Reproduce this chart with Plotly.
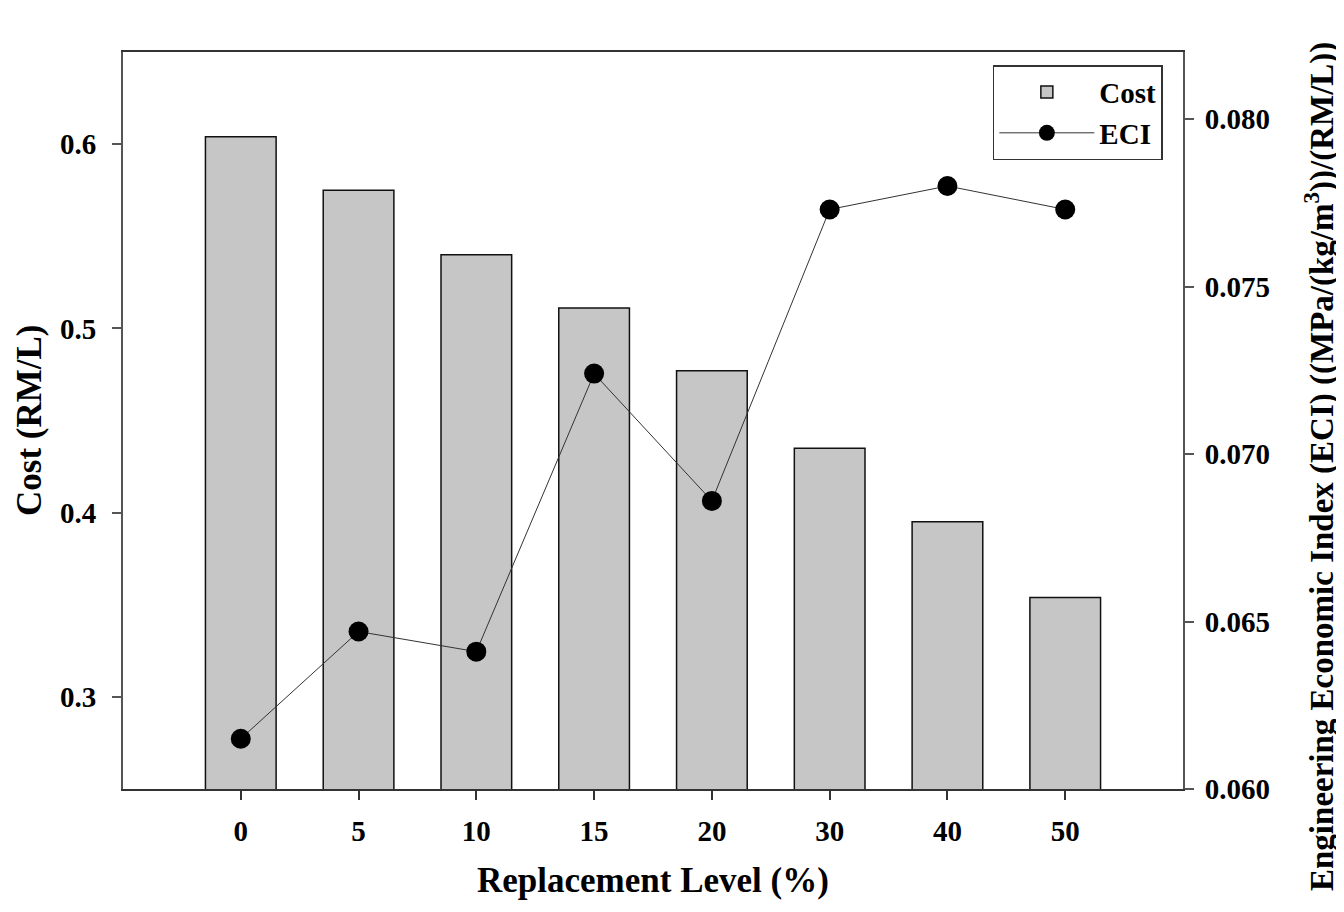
import plotly.graph_objects as go

levels = ["0", "5", "10", "15", "20", "30", "40", "50"]
cost = [0.604, 0.575, 0.540, 0.511, 0.477, 0.435, 0.395, 0.354]
eci = [0.0615, 0.0647, 0.0641, 0.0724, 0.0686, 0.0773, 0.0780, 0.0773]

font_family = "Liberation Serif"
tick_size = 29

fig = go.Figure()
fig.add_trace(go.Bar(
    x=levels, y=cost, name="<b>Cost</b>",
    marker=dict(color="#c6c6c6", line=dict(color="#111111", width=1.5)),
    width=0.6,
))
fig.add_trace(go.Scatter(
    x=levels, y=eci, name="<b>ECI</b>", yaxis="y2",
    mode="lines+markers",
    line=dict(color="#333333", width=1),
    marker=dict(color="black", size=20),
))

fig.update_layout(
    width=1336, height=904,
    paper_bgcolor="white", plot_bgcolor="white",
    margin=dict(l=115, r=161, t=44, b=123, autoexpand=False),
    font=dict(family=font_family, size=tick_size, color="black"),
    showlegend=True,
    legend=dict(
        x=0.981, y=0.982, xanchor="right", yanchor="top",
        bordercolor="#333333", borderwidth=1.5, bgcolor="white",
        font=dict(size=29, family=font_family), itemwidth=95,
        tracegroupgap=0,
    ),
    xaxis=dict(
        type="category", range=[-1, 8], automargin=False,
        showline=True, linecolor="#333333", linewidth=2, mirror=True,
        ticks="outside", ticklen=9, tickcolor="#333333", tickwidth=2,
        tickfont=dict(size=tick_size, family=font_family),
        tickprefix="<b>", ticksuffix="</b>", ticklabelstandoff=6,
        showgrid=False,
    ),
    yaxis=dict(
        range=[0.25, 0.65], tickvals=[0.3, 0.4, 0.5, 0.6], automargin=False,
        ticktext=["<b>0.3</b>", "<b>0.4</b>", "<b>0.5</b>", "<b>0.6</b>"],
        tickfont=dict(size=tick_size, family=font_family),
        showline=True, linecolor="#555555", linewidth=2,
        ticks="outside", ticklen=9, tickcolor="#555555", tickwidth=2,
        ticklabelstandoff=10,
        showgrid=False, zeroline=False,
    ),
    yaxis2=dict(
        overlaying="y", side="right", automargin=False,
        range=[0.060, 0.082], tickvals=[0.060, 0.065, 0.070, 0.075, 0.080],
        ticktext=["<b>0.060</b>", "<b>0.065</b>", "<b>0.070</b>", "<b>0.075</b>", "<b>0.080</b>"],
        tickfont=dict(size=tick_size, family=font_family),
        showline=True, linecolor="#555555", linewidth=2,
        ticks="outside", ticklen=9, tickcolor="#555555", tickwidth=2,
        ticklabelstandoff=5,
        showgrid=False, zeroline=False,
    ),
    annotations=[
        dict(text="<b>Replacement Level (%)</b>", xref="paper", yref="paper",
             x=0.5, y=-91 / 737, yanchor="middle", xanchor="center",
             showarrow=False, font=dict(size=35, family=font_family)),
        dict(text="<b>Cost (RM/L)</b>", xref="paper", yref="paper",
             x=(22 - 115) / 1060, y=(781 - 412) / 737, textangle=-90,
             xanchor="center", yanchor="middle",
             showarrow=False, font=dict(size=35, family=font_family)),
        dict(text="<b>Engineering Economic Index (ECI) ((MPa/(kg/m<sup>3</sup>))/(RM/L))</b>",
             xref="paper", yref="paper",
             x=(1311 - 115) / 1060, y=(781 - 459) / 737, textangle=-90,
             xanchor="center", yanchor="middle",
             showarrow=False, font=dict(size=33, family=font_family)),
    ],
)

fig.write_html("out.html")
